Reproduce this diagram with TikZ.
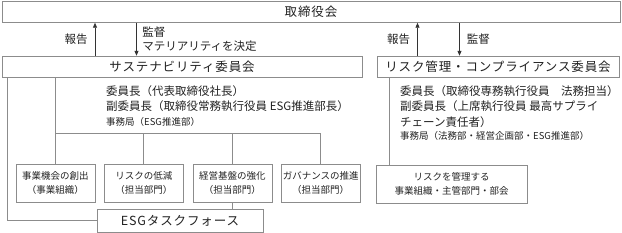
\documentclass[tikz,border=0pt]{standalone}
\usepackage{fontspec}
\setmainfont{Noto Sans CJK JP}
\usetikzlibrary{arrows.meta, positioning}
\definecolor{lineGray}{HTML}{8C8C8C}
\definecolor{textDark}{HTML}{222222}

\begin{document}
\begin{tikzpicture}[
    x=1pt, y=-1pt,
    every node/.style={text=textDark},
    title/.style={draw=lineGray, fill=white,
                  font=\fontsize{12.5}{14}\selectfont\addfontfeature{LetterSpace=7},
                  minimum height=21pt, inner sep=0pt},
    unit/.style={draw=lineGray, font=\fontsize{9.5}{14}\selectfont, align=center,
                 minimum width=79pt, minimum height=38pt, inner sep=0pt},
    member/.style={font=\fontsize{11.5}{15.5}\selectfont, align=left, inner sep=0pt},
    office/.style={font=\fontsize{9.5}{11}\selectfont, inner sep=0pt},
    lbl/.style={font=\fontsize{11.5}{14}\selectfont, align=left, inner sep=0pt},
    conn/.style={lineGray, line width=0.9pt},
    arrow/.style={-{Triangle[length=5pt, width=4pt]}, line width=0.8pt, black!80},
]
\useasboundingbox (0,0) rectangle (622,233);

% board and the two committees
\node[title, minimum width=618pt] (board) at (311,12) {取締役会};
\node[title, minimum width=360pt] (sus) at (182,66.5) {サステナビリティ委員会};
\node[title, minimum width=242pt] (risk) at (498,66.5) {リスク管理・コンプライアンス委員会};

% members
\node[member, anchor=north west] (susmem) at (106,85)
    {委員長（代表取締役社長）\\副委員長（取締役常務執行役員 ESG推進部長）};
\node[office, below=5pt of susmem.south west, anchor=north west] (susoff)
    {事務局（ESG推進部）};
\node[member, anchor=north west] (riskmem) at (400,85)
    {委員長（取締役専務執行役員　法務担当）\\副委員長（上席執行役員 最高サプライ\\チェーン責任者）};
\node[office, below=4pt of riskmem.south west, anchor=north west] (riskoff)
    {事務局（法務部・経営企画部・ESG推進部）};

% working units
\node[unit] (u1) at (55.5,183) {事業機会の創出\\（事業組織）};
\node[unit, right=9pt of u1] (u2) {リスクの低減\\（担当部門）};
\node[unit, right=9pt of u2] (u3) {経営基盤の強化\\（担当部門）};
\node[unit, right=9pt of u3] (u4) {ガバナンスの推進\\（担当部門）};
\node[title, minimum width=166pt, minimum height=23pt] (esg) at (180,220.5) {ESGタスクフォース};
\node[unit, minimum width=151pt] (rbox) at (451.5,184) {リスクを管理する\\事業組織・主管部門・部会};

\coordinate (bus) at (0,133);
\coordinate (edge) at (7.5,0);
\coordinate (riskline) at (389,0);
\coordinate (rep1) at (95,0);
\coordinate (sup1) at (136.5,0);
\coordinate (rep2) at (417.5,0);
\coordinate (sup2) at (459.5,0);

% connectors
\draw[conn] (sus.south -| u1.north) -- (u1.north);
\draw[conn] (u1.north |- bus) -| (u4.north);
\draw[conn] (u2.north |- bus) -- (u2.north);
\draw[conn] (u3.north |- bus) -- (u3.north);
\draw[conn] (u3.south) -- (esg.north -| u3.south);
\draw[conn] (sus.south -| edge) |- (esg.west);
\draw[conn] (risk.south -| riskline) -- (rbox.north -| riskline);

% report / supervise
\draw[arrow] (sus.north -| rep1) -- node[lbl, left=7pt] {報告} (board.south -| rep1);
\draw[arrow] (board.south -| sup1) -- node[lbl, right=5.5pt] {監督\\マテリアリティを決定} (sus.north -| sup1);
\draw[arrow] (risk.north -| rep2) -- node[lbl, left=7pt] {報告} (board.south -| rep2);
\draw[arrow] (board.south -| sup2) -- node[lbl, right=7pt] {監督} (risk.north -| sup2);
\end{tikzpicture}
\end{document}
